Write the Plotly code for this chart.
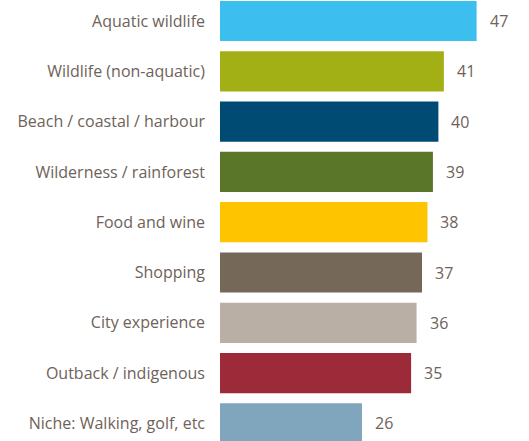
import plotly.graph_objects as go

categories = [
    "Aquatic wildlife",
    "Wildlife (non-aquatic)",
    "Beach / coastal / harbour",
    "Wilderness / rainforest",
    "Food and wine",
    "Shopping",
    "City experience",
    "Outback / indigenous",
    "Niche: Walking, golf, etc",
]
values = [47, 41, 40, 39, 38, 37, 36, 35, 26]
colors = [
    "#3CBFEF", "#A2AF15", "#004B73", "#5A7628", "#FFC400",
    "#766858", "#B9AFA5", "#9D2A38", "#7FA6BC",
]

text_color = "#6E6259"
font_family = "Open Sans"

fig = go.Figure(
    go.Bar(
        x=values,
        y=categories,
        orientation="h",
        marker=dict(color=colors, line=dict(width=0)),
        hoverinfo="x+y",
    )
)

# value labels to the right of each bar
for cat, val in zip(categories, values):
    fig.add_annotation(
        x=val,
        y=cat,
        text=str(val),
        showarrow=False,
        xanchor="left",
        yanchor="middle",
        xshift=11,
        font=dict(color=text_color, size=16, family=font_family),
    )

fig.update_layout(
    width=529,
    height=441,
    margin=dict(l=220, r=36, t=0, b=0),
    paper_bgcolor="white",
    plot_bgcolor="white",
    bargap=0.2,
    showlegend=False,
    font=dict(family=font_family, color=text_color, size=16),
)
fig.update_xaxes(
    range=[0, 50],
    visible=False,
    showgrid=False,
    zeroline=False,
)
fig.update_yaxes(
    categoryorder="array",
    categoryarray=categories,
    range=[8.35, -0.4175],
    showgrid=False,
    zeroline=False,
    showline=False,
    ticks="",
    ticklabelstandoff=14,
    tickfont=dict(color=text_color, size=16, family=font_family),
)

fig.write_html("out.html")
